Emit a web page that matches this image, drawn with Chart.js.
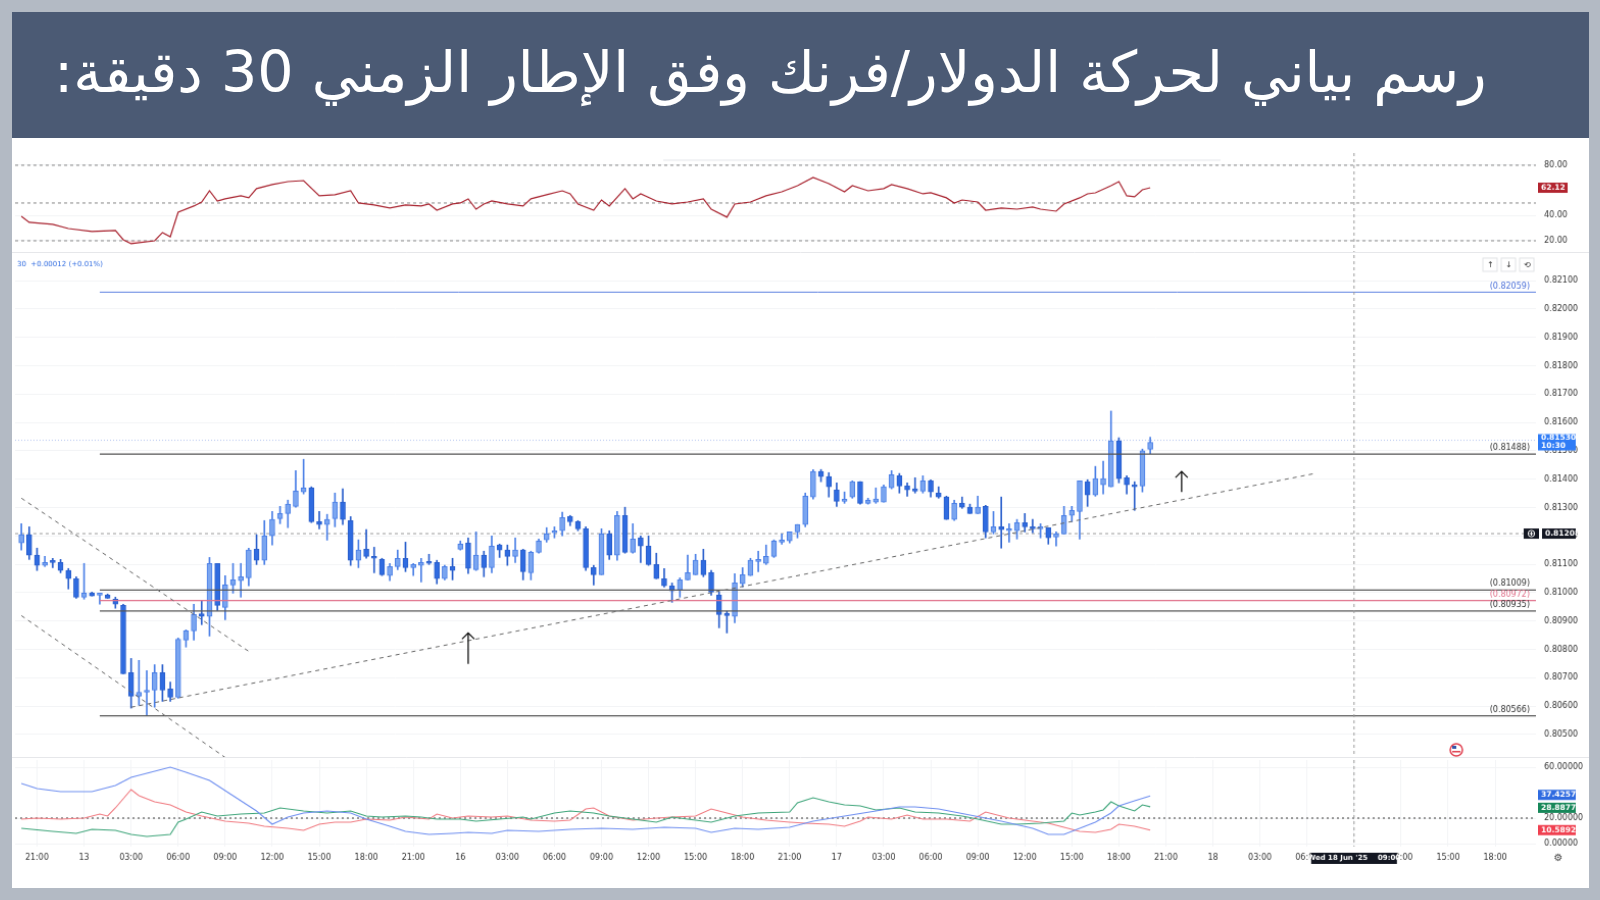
<!DOCTYPE html>
<html><head><meta charset="utf-8">
<script src="https://cdn.jsdelivr.net/npm/chart.js@4.4.1/dist/chart.umd.min.js"></script>
<style>
html,body{margin:0;padding:0;width:1600px;height:900px;background:#b3bac4;overflow:hidden;font-family:"DejaVu Sans",sans-serif}
#wrap{position:absolute;left:0;top:0;width:1568px;height:882px;zoom:1.0204}
#title{position:absolute;left:12px;top:12px;width:1545px;height:123px;background:#4b5a74;color:#fff;direction:rtl;font-family:"DejaVu Sans","Noto Sans",sans-serif;font-size:56px;line-height:118px;padding-right:100px;box-sizing:border-box;text-align:right;white-space:nowrap}
#panel{position:absolute;left:12px;top:135px;width:1545px;height:735px;background:#fff}
canvas{position:absolute;left:12px}
</style></head><body><div id="wrap">
<div id="title">رسم بياني لحركة الدولار/فرنك وفق الإطار الزمني 30 دقيقة:</div>
<div id="panel"></div>
<canvas id="rsi" style="top:150px" width="1545" height="98"></canvas>
<canvas id="price" style="top:250px" width="1545" height="493"></canvas>
<canvas id="dmi" style="top:745px" width="1545" height="105"></canvas>
</div>
<script>
// ---- DATA ----
const opens=[0.81175,0.81204,0.81132,0.81096,0.81110,0.81106,0.81078,0.81049,0.80984,0.80998,0.80991,0.80991,0.80977,0.80955,0.80718,0.80635,0.80649,0.80656,0.80718,0.80660,0.80631,0.80833,0.80865,0.80926,0.80916,0.81103,0.80948,0.81027,0.81042,0.81052,0.81153,0.81114,0.81200,0.81261,0.81279,0.81304,0.81355,0.81369,0.81250,0.81240,0.81261,0.81319,0.81254,0.81114,0.81153,0.81128,0.81117,0.81060,0.81092,0.81121,0.81088,0.81096,0.81110,0.81106,0.81049,0.81092,0.81153,0.81175,0.81081,0.81132,0.81088,0.81168,0.81150,0.81128,0.81150,0.81070,0.81142,0.81186,0.81211,0.81218,0.81268,0.81250,0.81225,0.81088,0.81063,0.81207,0.81132,0.81272,0.81142,0.81193,0.81164,0.81099,0.81049,0.81024,0.81009,0.81045,0.81063,0.81114,0.81070,0.80991,0.80926,0.80916,0.81031,0.81060,0.81110,0.81103,0.81128,0.81178,0.81182,0.81214,0.81240,0.81337,0.81427,0.81409,0.81362,0.81322,0.81337,0.81391,0.81315,0.81319,0.81319,0.81369,0.81412,0.81376,0.81366,0.81358,0.81394,0.81351,0.81337,0.81258,0.81315,0.81301,0.81279,0.81304,0.81214,0.81232,0.81218,0.81218,0.81247,0.81232,0.81225,0.81229,0.81196,0.81207,0.81272,0.81286,0.81391,0.81344,0.81380,0.81373,0.81535,0.81405,0.81380,0.81376,0.81505];
const highs=[0.81243,0.81232,0.81157,0.81128,0.81121,0.81117,0.81085,0.81056,0.81103,0.81002,0.80995,0.80995,0.80984,0.80959,0.80768,0.80761,0.80725,0.80746,0.80746,0.80685,0.80840,0.80869,0.80959,0.80970,0.81124,0.81103,0.81060,0.81103,0.81103,0.81157,0.81204,0.81254,0.81286,0.81304,0.81326,0.81430,0.81470,0.81373,0.81286,0.81276,0.81351,0.81366,0.81268,0.81186,0.81222,0.81160,0.81121,0.81103,0.81150,0.81178,0.81103,0.81121,0.81135,0.81114,0.81096,0.81121,0.81182,0.81193,0.81214,0.81146,0.81200,0.81171,0.81168,0.81193,0.81153,0.81146,0.81189,0.81229,0.81232,0.81283,0.81272,0.81254,0.81232,0.81096,0.81225,0.81218,0.81286,0.81301,0.81243,0.81200,0.81200,0.81139,0.81085,0.81034,0.81052,0.81132,0.81135,0.81153,0.81078,0.81002,0.80934,0.81067,0.81088,0.81121,0.81146,0.81168,0.81186,0.81207,0.81211,0.81240,0.81351,0.81434,0.81434,0.81423,0.81387,0.81355,0.81394,0.81391,0.81333,0.81369,0.81380,0.81430,0.81420,0.81387,0.81405,0.81412,0.81398,0.81373,0.81340,0.81326,0.81337,0.81312,0.81340,0.81308,0.81286,0.81337,0.81243,0.81258,0.81279,0.81258,0.81243,0.81229,0.81214,0.81304,0.81304,0.81394,0.81398,0.81445,0.81463,0.81640,0.81546,0.81412,0.81391,0.81506,0.81548];
const lows=[0.81150,0.81117,0.81078,0.81092,0.81088,0.81070,0.81013,0.80980,0.80977,0.80988,0.80959,0.80980,0.80945,0.80714,0.80593,0.80603,0.80567,0.80596,0.80617,0.80617,0.80628,0.80808,0.80833,0.80887,0.80847,0.80937,0.80905,0.80998,0.80984,0.81024,0.81099,0.81099,0.81168,0.81243,0.81229,0.81301,0.81348,0.81247,0.81225,0.81185,0.81232,0.81240,0.81096,0.81088,0.81121,0.81070,0.81060,0.81042,0.81081,0.81074,0.81060,0.81038,0.81099,0.81031,0.81045,0.81045,0.81150,0.81067,0.81078,0.81056,0.81070,0.81124,0.81096,0.81106,0.81045,0.81045,0.81139,0.81178,0.81193,0.81200,0.81236,0.81218,0.81078,0.81027,0.81063,0.81117,0.81114,0.81139,0.81139,0.81106,0.81096,0.81049,0.81020,0.80966,0.80984,0.81045,0.81063,0.81056,0.80991,0.80876,0.80858,0.80894,0.81020,0.81060,0.81074,0.81099,0.81124,0.81171,0.81175,0.81193,0.81232,0.81330,0.81391,0.81337,0.81304,0.81315,0.81333,0.81312,0.81312,0.81315,0.81319,0.81366,0.81351,0.81340,0.81351,0.81351,0.81337,0.81333,0.81258,0.81254,0.81297,0.81279,0.81279,0.81193,0.81207,0.81157,0.81178,0.81189,0.81214,0.81211,0.81193,0.81171,0.81164,0.81207,0.81250,0.81189,0.81304,0.81340,0.81348,0.81373,0.81387,0.81348,0.81290,0.81355,0.81490];
const closes=[0.81204,0.81132,0.81096,0.81106,0.81106,0.81078,0.81049,0.80984,0.80998,0.80988,0.80993,0.80980,0.80959,0.80714,0.80635,0.80649,0.80656,0.80718,0.80656,0.80631,0.80836,0.80865,0.80923,0.80916,0.81103,0.80955,0.81027,0.81045,0.81056,0.81150,0.81114,0.81200,0.81258,0.81279,0.81312,0.81358,0.81369,0.81250,0.81240,0.81258,0.81319,0.81258,0.81114,0.81150,0.81128,0.81121,0.81063,0.81092,0.81121,0.81088,0.81099,0.81106,0.81103,0.81049,0.81092,0.81078,0.81171,0.81085,0.81132,0.81088,0.81164,0.81150,0.81128,0.81150,0.81074,0.81142,0.81182,0.81207,0.81214,0.81265,0.81250,0.81225,0.81088,0.81063,0.81207,0.81132,0.81272,0.81142,0.81189,0.81164,0.81099,0.81049,0.81024,0.81006,0.81045,0.81070,0.81114,0.81063,0.81002,0.80923,0.80919,0.81034,0.81063,0.81114,0.81114,0.81128,0.81182,0.81182,0.81214,0.81240,0.81340,0.81427,0.81409,0.81373,0.81322,0.81326,0.81391,0.81315,0.81326,0.81330,0.81373,0.81416,0.81376,0.81362,0.81358,0.81394,0.81355,0.81337,0.81258,0.81315,0.81301,0.81279,0.81301,0.81214,0.81232,0.81222,0.81222,0.81247,0.81232,0.81225,0.81229,0.81193,0.81207,0.81272,0.81290,0.81394,0.81344,0.81402,0.81402,0.81535,0.81402,0.81380,0.81373,0.81500,0.81530];

const rsiIdx=[0,1,4,6,9,12,13,14,17,18,19,20,22,23,24,25,26,28,29,30,32,34,36,38,40,42,43,45,47,49,51,52,53,55,56,57,58,59,60,62,64,65,67,69,70,71,73,74,75,77,78,79,81,83,85,87,88,90,91,93,95,97,99,101,103,105,106,108,110,111,113,115,116,118,119,120,122,123,125,127,129,130,132,133,135,136,137,139,140,141,142,143,144];
const rsiVal=[39.5,34.6,33.0,29.7,27.3,28.1,20.8,17.6,20.0,26.5,23.2,42.7,47.6,50.8,59.7,51.6,53.3,55.7,54.1,61.4,64.6,67.0,67.8,55.7,56.5,59.7,50.0,48.4,46.0,48.4,47.6,49.2,44.3,49.2,50.0,53.3,45.1,49.2,51.6,49.2,47.6,53.3,56.5,59.7,57.3,49.2,44.3,52.4,47.6,61.4,53.3,57.3,51.6,49.2,50.8,53.3,45.1,38.7,49.2,50.8,55.7,58.9,63.8,70.3,65.4,58.9,63.8,59.7,61.4,64.6,61.4,57.3,58.1,54.1,50.0,52.4,50.8,44.3,46.0,45.1,46.8,45.1,43.5,49.2,54.1,57.3,58.1,63.8,67.0,55.7,54.9,60.5,62.12];

const plusIdx=[0,2,5,9,12,14,17,19,21,24,27,30,32,34,36,39,42,44,47,49,52,55,57,60,62,66,70,74,78,82,86,88,91,94,98,101,105,109,112,114,117,121,125,129,131,133,135,137,139,140,142,144];
const adxVal=[47.2,43.2,40.8,40.8,45.6,52,56.8,60,56,49.6,37.6,25.6,15.2,20.8,24,25.6,24,19.2,13.6,9.6,7.2,8,8.8,8,10.4,9.6,11.2,12,11.2,12.8,12,8.8,12,11.2,12.8,17.6,21.6,25.6,28.8,28.8,27.2,22.4,17.6,12,7.2,7.2,12,16.8,24,29.6,33.6,37.4257];
const diPlusIdx=[0,4,7,9,12,14,16,19,20,21,23,25,28,31,33,36,39,42,44,46,49,51,53,56,58,61,64,65,68,70,73,75,78,81,83,86,88,91,94,98,99,101,103,105,107,109,112,114,117,120,122,125,127,130,133,134,135,137,138,139,140,142,143,144];
const diPlusVal=[12,9.6,8,11.2,10.4,7.2,5.6,7.2,16.8,19.2,24.8,21.6,23.2,24,28,25.6,24,25.6,21.6,20.8,21.6,20.8,19.2,19.2,17.6,19.2,20.8,19.2,24,25.6,24,21.6,19.2,16.8,20.8,18.4,16.8,21.6,24,24.8,32,36,32.8,30.4,29.6,26.4,28,24.8,24,21.6,19.2,15.2,15.2,16,17.6,24,22.4,24.8,26.4,32.8,29.6,25.6,30.4,28.88772];
const diMinusIdx=[0,2,5,8,10,11,12,14,15,17,19,21,23,26,29,31,34,36,38,40,42,44,47,49,52,53,55,57,60,62,65,68,70,72,73,75,78,81,83,86,88,90,92,95,98,100,103,105,107,108,111,113,115,118,121,123,126,129,131,133,135,137,139,140,142,144];
const diMinusVal=[19.2,20,19.2,20,23.2,21.6,28,42.4,37.6,32.8,30.4,24.8,21.6,17.6,16,13.6,12,10.4,15.2,16.8,16.8,19.2,18.4,20.8,19.2,23.2,20,21.6,20.8,21.6,18.4,17.6,18.4,27.2,28,21.6,18.4,20,20.8,21.6,27.2,24,20.8,18.4,16.8,16,15.2,13.6,17.6,20.8,19.2,22.4,19.2,19.2,17.6,24.8,20,17.6,16,12.8,9.6,8.8,11.2,15.2,13.6,10.58929];

const levelVals=[0.82059,0.81488,0.81009,0.80972,0.80935,0.80566];
const levelColors=['#5b7fe0','#555','#555','#e0708a','#555','#555'];
const levelStart=10;
const midLevel=0.81208;
const trendX=[14,165], trendY=[0.80596,0.81420];
const chanAx=[0,29], chanAy=[0.81333,0.80793];
const chanBx=[0,26], chanBy=[0.80919,0.80419];
const arrowX=[57,148], arrowFrom=[0.80749,0.81355], arrowTo=[0.80858,0.81427];
const lastPrice=0.81530, lastRsi=62.12;
const crossIdx=170;
const tickIdx=[2,8,14,20,26,32,38,44,50,56,62,68,74,80,86,92,98,104,110,116,122,128,134,140,146,152,158,164,170,176,182,188];
const tickText=['21:00','13','03:00','06:00','09:00','12:00','15:00','18:00','21:00','16','03:00','06:00','09:00','12:00','15:00','18:00','21:00','17','03:00','06:00','09:00','12:00','15:00','18:00','21:00','18','03:00','06:00','09:00','12:00','15:00','18:00'];
const priceTicks=[0.805,0.806,0.807,0.808,0.809,0.810,0.811,0.812,0.813,0.814,0.815,0.816,0.817,0.818,0.819,0.820,0.821];

// ---- helpers ----
const XMIN=-0.8, XMAX=193.2;
const UP='#7aa5f0', DOWN='#2f6be0', UPB='#4a7fe6', DOWNB='#2a5fcc';
const F='"DejaVu Sans",sans-serif';
function xScale(display){return {type:'linear',min:XMIN,max:XMAX,offset:false,display:display,
  grid:{color:'#f3f4f6',drawTicks:false},border:{display:false},
  afterBuildTicks:s=>{s.ticks=tickIdx.map(v=>({value:v}));},
  afterFit:s=>{if(display)s.height=20;s.paddingLeft=0;s.paddingRight=0;},
  ticks:{autoSkip:false,maxRotation:0,color:'#333',font:{size:8,family:F},padding:6,
    callback:(v)=>{const i=tickIdx.indexOf(v);return (v===crossIdx)?'':tickText[i];}}};}
function yRight(min,max,ticks,dec){return {position:'right',min:min,max:max,
  afterBuildTicks:s=>{s.ticks=ticks.map(v=>({value:v}));},
  afterFit:s=>{s.width=52;s.paddingTop=0;s.paddingBottom=0;},border:{display:false},grid:{color:'#f3f4f6',drawTicks:false},
  ticks:{color:'#333',font:{size:8,family:F},padding:8,callback:v=>v.toFixed(dec)}};}
const pts=(xs,ys)=>xs.map((x,i)=>({x:x,y:ys[i]}));
function crossPlugin(){return {id:'cross',afterDatasetsDraw(c){const x=c.scales.x.getPixelForValue(crossIdx);const ctx=c.ctx;ctx.save();ctx.strokeStyle='#999';ctx.setLineDash([3,3]);ctx.lineWidth=1;ctx.beginPath();ctx.moveTo(x,0);ctx.lineTo(x,c.chartArea.bottom);ctx.stroke();ctx.restore();}};}
function box(ctx,x,y,w,h,bg,lines,col){ctx.fillStyle=bg;ctx.fillRect(x,y,w,h);ctx.fillStyle=col||'#fff';ctx.font='bold 7.5px '+F;ctx.textBaseline='middle';ctx.textAlign='left';lines.forEach((t,i)=>ctx.fillText(t,x+3,y+h/(lines.length*2)*(2*i+1)));}
function hline(ctx,c,y,dash,color){const yy=c.scales.y.getPixelForValue(y);ctx.save();ctx.strokeStyle=color;ctx.setLineDash(dash);ctx.beginPath();ctx.moveTo(c.chartArea.left,yy);ctx.lineTo(c.chartArea.right,yy);ctx.stroke();ctx.restore();}
const LAY={padding:{left:3,top:0,bottom:0,right:0}};

// ---- RSI ----
new Chart(document.getElementById('rsi'),{type:'line',
 data:{datasets:[{data:pts(rsiIdx,rsiVal),borderColor:'#a8232f',borderWidth:1.2,pointRadius:0,tension:0,
   fill:{value:20,above:'rgba(0,0,0,0)',below:'rgba(242,54,69,0.18)'}}]},
 options:{animation:false,responsive:false,layout:LAY,
  plugins:{legend:{display:false},tooltip:{enabled:false}},
  scales:{x:xScale(false),y:yRight(10.25,89.7,[20,40,80],2)}},
 plugins:[crossPlugin(),{id:'rsiExtra',beforeDatasetsDraw(c){const ctx=c.ctx;ctx.save();ctx.lineWidth=1;
   [80,50,20].forEach(v=>hline(ctx,c,v,[3,3],'#888'));
   ctx.strokeStyle='#e3e5e8';ctx.beginPath();ctx.moveTo(638,7);ctx.lineTo(1184,7);ctx.stroke();ctx.restore();},
  afterDraw(c){const ctx=c.ctx;const y=c.scales.y.getPixelForValue(lastRsi);box(ctx,c.chartArea.right+2,y-5,29,10,'#b2242f',[lastRsi.toFixed(2)]);
   ctx.strokeStyle='#e6e7ea';ctx.beginPath();ctx.moveTo(0,97.5);ctx.lineTo(c.width,97.5);ctx.stroke();}}]});

// ---- PRICE ----
const wickData=opens.map((o,i)=>({x:i,y:[lows[i],highs[i]]}));
const bodyData=opens.map((o,i)=>({x:i,y:[o,closes[i]]}));
const cols=opens.map((o,i)=>closes[i]>=o?UP:DOWN);
const bcols=opens.map((o,i)=>closes[i]>=o?UPB:DOWNB);
const lineDs=(d,color,dash,w)=>({type:'line',data:d,borderColor:color,borderWidth:w||1,borderDash:dash||[],pointRadius:0,tension:0,order:0});
const dsets=[
 {type:'bar',data:wickData,backgroundColor:bcols,barThickness:1,grouped:false,order:2},
 {type:'bar',data:bodyData,backgroundColor:cols,borderColor:bcols,borderWidth:1,borderSkipped:false,barThickness:5,minBarLength:2,grouped:false,order:1},
 lineDs(pts(trendX,trendY),'#666',[4,4],1),
 lineDs(pts(chanAx,chanAy),'#666',[4,4],1),
 lineDs(pts(chanBx,chanBy),'#666',[4,4],1)];
levelVals.forEach((v,i)=>dsets.push(lineDs([{x:levelStart,y:v},{x:XMAX,y:v}],levelColors[i],[],i===0?1:1.2)));
new Chart(document.getElementById('price'),{type:'bar',data:{datasets:dsets},
 options:{animation:false,responsive:false,layout:LAY,
  plugins:{legend:{display:false},tooltip:{enabled:false}},
  scales:{x:xScale(false),y:yRight(0.80417,0.82190,priceTicks,5)}},
 plugins:[crossPlugin(),{id:'priceExtra',beforeDatasetsDraw(c){const ctx=c.ctx;ctx.save();ctx.lineWidth=1;hline(ctx,c,midLevel,[3,3],'#999');hline(ctx,c,0.81537,[1,2],'#b8c8f0');ctx.restore();},
  afterDraw(c){const ctx=c.ctx,xs=c.scales.x,ys=c.scales.y,R=c.chartArea.right;ctx.save();
   ctx.font='8px '+F;ctx.textAlign='right';ctx.textBaseline='bottom';
   levelVals.forEach((v,i)=>{ctx.fillStyle=i===0?'#4a6fd8':(i===3?'#e0708a':'#333');const yy=ys.getPixelForValue(v);
     ctx.fillText('('+v.toFixed(5)+')',R-6,yy-2);});
   ctx.textAlign='left';
   ctx.strokeStyle='#111';ctx.lineWidth=1.3;
   arrowX.forEach((a,i)=>{const x=xs.getPixelForValue(a),y1=ys.getPixelForValue(arrowFrom[i]),y2=ys.getPixelForValue(arrowTo[i]);
     ctx.beginPath();ctx.moveTo(x,y1);ctx.lineTo(x,y2);ctx.moveTo(x-6,y2+6);ctx.lineTo(x,y2);ctx.lineTo(x+6,y2+6);ctx.stroke();});
   let y=ys.getPixelForValue(lastPrice);box(ctx,R+2,y-8,37,16,'#2f7cf6',[lastPrice.toFixed(5),'10:30']);
   y=ys.getPixelForValue(midLevel);box(ctx,R+6,y-5,33,10,'#131722',[midLevel.toFixed(5)]);
   ctx.fillStyle='#131722';ctx.fillRect(R-12,y-5,15,10);ctx.strokeStyle='#fff';ctx.lineWidth=1;ctx.beginPath();ctx.arc(R-4.5,y,3.2,0,7);ctx.stroke();
   ctx.beginPath();ctx.moveTo(R-6.5,y);ctx.lineTo(R-2.5,y);ctx.moveTo(R-4.5,y-2);ctx.lineTo(R-4.5,y+2);ctx.stroke();
   ctx.fillStyle='#2f6be0';ctx.font='7px '+F;ctx.textBaseline='middle';ctx.fillText('30  +0.00012 (+0.01%)',5,9);
   ['↑','↓','⟲'].forEach((t,i)=>{const bx=1441+i*18;ctx.strokeStyle='#e1e3e6';ctx.strokeRect(bx,3,14,13);ctx.fillStyle='#333';ctx.font='8px '+F;ctx.fillText(t,bx+4,10);});
   ctx.beginPath();ctx.arc(1415,485,6,0,7);ctx.fillStyle='#fff';ctx.fill();ctx.strokeStyle='#e04050';ctx.lineWidth=1.5;ctx.stroke();
   ctx.fillStyle='#3355aa';ctx.fillRect(1411,481,4,3);ctx.fillStyle='#e04050';ctx.fillRect(1411,486,8,1.5);
   ctx.strokeStyle='#e6e7ea';ctx.lineWidth=1;ctx.beginPath();ctx.moveTo(0,492.5);ctx.lineTo(c.width,492.5);ctx.stroke();
   ctx.restore();}}]});

// ---- DMI ----
new Chart(document.getElementById('dmi'),{type:'line',
 data:{datasets:[
  {data:pts(plusIdx,adxVal),borderColor:'#6f8ff0',borderWidth:1.1,pointRadius:0,tension:0},
  {data:pts(diPlusIdx,diPlusVal),borderColor:'#3ea57a',borderWidth:1.1,pointRadius:0,tension:0},
  {data:pts(diMinusIdx,diMinusVal),borderColor:'#f07a80',borderWidth:1.1,pointRadius:0,tension:0}]},
 options:{animation:false,responsive:false,layout:LAY,
  plugins:{legend:{display:false},tooltip:{enabled:false}},
  scales:{x:xScale(true),y:yRight(-2.4,65.6,[0,20,60],5)}},
 plugins:[crossPlugin(),{id:'dmiExtra',beforeDatasetsDraw(c){const ctx=c.ctx;ctx.save();ctx.lineWidth=1.3;hline(ctx,c,20,[2,3],'#777');ctx.restore();},
  afterDraw(c){const ctx=c.ctx,ys=c.scales.y,R=c.chartArea.right;
   box(ctx,R+2,ys.getPixelForValue(adxVal[adxVal.length-1])-6,37,10,'#2f6be0',[adxVal[adxVal.length-1].toFixed(5)]);
   box(ctx,R+2,ys.getPixelForValue(diPlusVal[diPlusVal.length-1])-4,37,10,'#17885a',[diPlusVal[diPlusVal.length-1].toFixed(5)]);
   box(ctx,R+2,ys.getPixelForValue(diMinusVal[diMinusVal.length-1])-5,37,10,'#f04050',[diMinusVal[diMinusVal.length-1].toFixed(5)]);
   const x=c.scales.x.getPixelForValue(crossIdx);const yb=c.chartArea.bottom+6;
   ctx.fillStyle='#131722';ctx.fillRect(x-42,yb,84,11);ctx.fillStyle='#fff';ctx.font='bold 7px '+F;ctx.textBaseline='middle';ctx.textAlign='center';
   ctx.fillText("Wed 18 Jun '25    09:00",x,yb+5.5);
   ctx.fillStyle='#444';ctx.font='10px '+F;ctx.fillText('⚙',R+22,yb+5.5);}}]});
</script></body></html>
